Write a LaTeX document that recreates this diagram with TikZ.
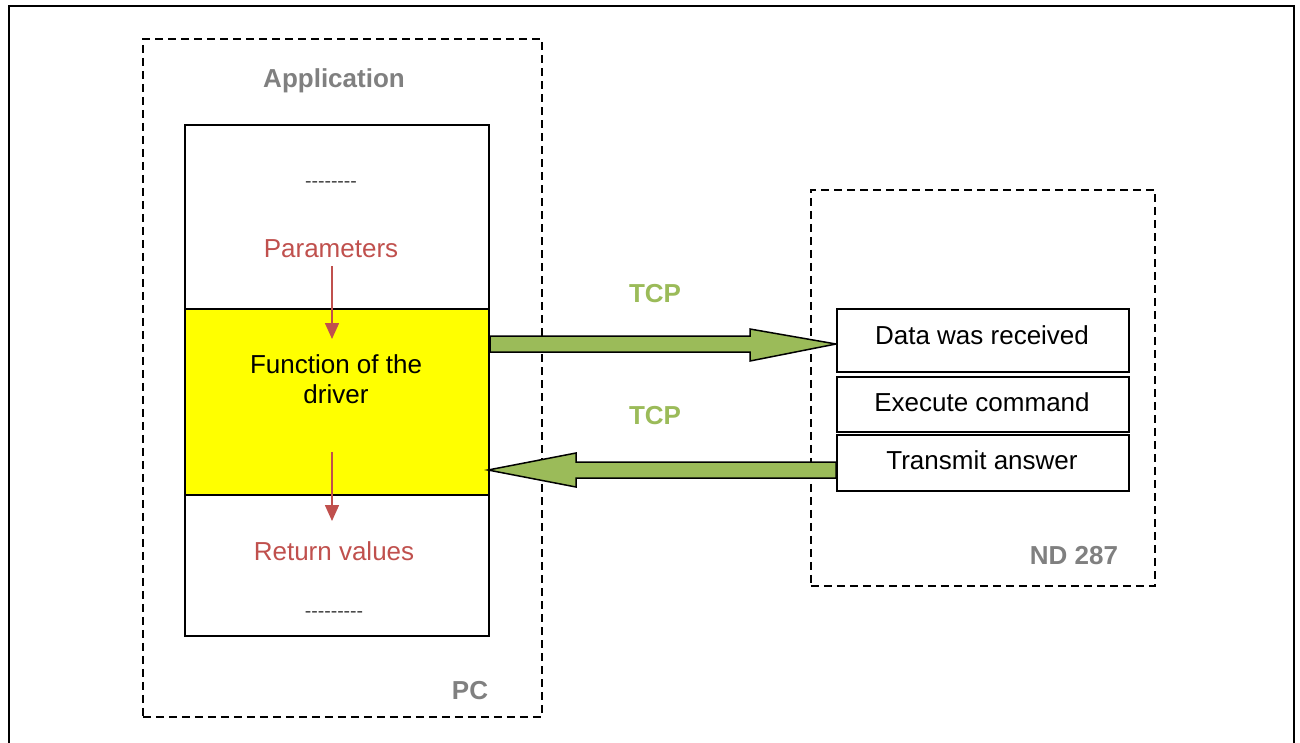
\documentclass[tikz,border=0pt]{standalone}
\usepackage{fontspec}
\setmainfont{Liberation Sans}
\usetikzlibrary{arrows.meta,calc}
\definecolor{tgray}{HTML}{808080}
\definecolor{tred}{HTML}{C0504D}
\definecolor{tgreen}{HTML}{9BBB59}
\definecolor{dgray}{HTML}{404040}
\definecolor{tyellow}{HTML}{FFFF00}
\newcommand\hyp{\symbol{45}}
\tikzset{
  txt/.style={anchor=base, inner sep=0pt, font=\fontsize{26}{30}\selectfont},
  boldgray/.style={txt, text=tgray, font=\fontsize{26}{30}\selectfont\bfseries},
  redtxt/.style={txt, text=tred},
  greentxt/.style={txt, text=tgreen, font=\fontsize{26}{30}\selectfont\bfseries},
  dashtxt/.style={anchor=base, inner sep=0pt, text=dgray, font=\fontsize{19.5}{22}\selectfont},
  group/.style={draw, line width=1.5pt, dash pattern=on 8pt off 5pt},
  blockbox/.style={draw, line width=2pt, anchor=north west, inner sep=0pt},
  stepbox/.style={blockbox, fill=white},
  redarr/.style={draw=tred, line width=1.6pt, -{Triangle[length=16pt,width=14pt]}, tred},
  fatarrow/.style={fill=tgreen, draw=black, line width=1.5pt, line join=miter},
}
\begin{document}
\begin{tikzpicture}[x=1pt,y=-1pt]
\useasboundingbox (0,0) rectangle (1300,742);
\clip (0,0) rectangle (1300,742);
\fill[white] (0,0) rectangle (1300,742);
% outer frame
\draw[line width=2pt] (9,6) rectangle (1294,760);
% group boxes
\node[group, anchor=north west, minimum width=399pt, minimum height=678pt, inner sep=0pt] (pc) at (142,38) {};
\node[group, anchor=north west, minimum width=344pt, minimum height=396pt, inner sep=0pt] (nd) at (810,189) {};
\node[boldgray] (app) at (334,87) {Application};
\node[boldgray] (pclbl) at (470,699) {PC};
\node[boldgray] (ndlbl) at (1074,564) {ND 287};
% application stack
\node[blockbox, fill=white, minimum width=304pt, minimum height=511pt] (appbox) at (184,124) {};
\node[blockbox, fill=tyellow, minimum width=304pt, minimum height=186pt] (drv) at (184,308) {};
\node[dashtxt] (d1) at (331,187) {\hyp\hyp\hyp\hyp\hyp\hyp\hyp\hyp};
\node[dashtxt] (d2) at (334,617) {\hyp\hyp\hyp\hyp\hyp\hyp\hyp\hyp\hyp};
\node[redtxt] (params) at (331,257) {Parameters};
\node[txt] (f1) at (336,373) {Function of the};
\node[txt] (f2) at (336,403) {driver};
\node[redtxt] (ret) at (334,560) {Return values};
\coordinate (p1) at (332,266);
\coordinate (p2) at (332,339);
\coordinate (r1) at (332,452);
\coordinate (r2) at (332,521);
\draw[redarr] (p1) -- (p2);
\draw[redarr] (r1) -- (r2);
% TCP arrows
\node[greentxt] (tcp1) at (655,302) {TCP};
\node[greentxt] (tcp2) at (655,424) {TCP};
\coordinate (t1) at (836,344);
\coordinate (t2) at (488,470);
\draw[fatarrow] (drv.east |- 0,336) -- (750,336) -- (750,329) -- (t1) -- (750,361) -- (750,352) -- (drv.east |- 0,352) -- cycle;
\draw[fatarrow] (836,462) -- (576,462) -- (576,453) -- (t2) -- (576,487) -- (576,478) -- (836,478) -- cycle;
% ND 287 steps
\node[stepbox, minimum width=292pt, minimum height=63pt] (data) at (836,308) {};
\node[stepbox, minimum width=292pt, minimum height=55pt] (exec) at (836,375.5) {};
\node[stepbox, minimum width=292pt, minimum height=55.5pt] (trans) at (836,434) {};
\node[txt] at (982,344) {Data was received};
\node[txt] at (982,411) {Execute command};
\node[txt] at (982,469) {Transmit answer};
\end{tikzpicture}
\end{document}
